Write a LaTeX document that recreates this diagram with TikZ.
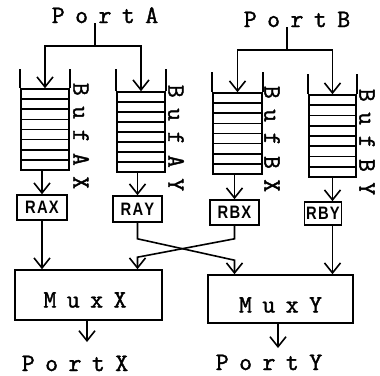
\documentclass[tikz,border=0pt]{standalone}
\usepackage{fontspec}
\newfontfamily\monof[FakeBold=1.6]{Latin Modern Mono}
\newfontfamily\sansf{Liberation Sans}
\usetikzlibrary{arrows.meta,calc}
% letter spacing for the typewriter labels and the register names
\newcommand\lsp{\kern10.5pt\relax}
\newcommand\rsp{\kern1.5pt\relax}
\newcommand\regname[1]{\scalebox{0.82}[1]{\bfseries #1}}
\tikzset{
  thk/.style={line width=1.6pt},
  arr/.style={thk, -{Straight Barb[length=10pt,width=16pt]}},
  lbl/.style={font=\monof\fontsize{25}{25}\selectfont, inner sep=0pt},
  reg/.style={draw, thk, inner sep=0pt, font=\sansf\fontsize{18}{18}\selectfont},
  mux/.style={draw, thk, inner sep=0pt, text depth=0pt, font=\monof\fontsize{25}{25}\selectfont},
  buf/.style={draw, thk, inner sep=0pt,
    path picture={
      \foreach \k in {1,...,7}{
        \draw[thk]
          ($(path picture bounding box.north west)!\k/8!(path picture bounding box.south west)$) --
          ($(path picture bounding box.north east)!\k/8!(path picture bounding box.south east)$);
      }}},
}
\begin{document}
\begin{tikzpicture}[x=1pt,y=-1pt]
\useasboundingbox (0,0) rectangle (380,375);

% input ports
\node[lbl, anchor=base] (pa) at (105,23) {P\lsp o\lsp r\lsp t\lsp A};
\node[lbl, anchor=base] (pb) at (297,27) {P\lsp o\lsp r\lsp t\lsp B};
\coordinate (sa) at (95,46);
\coordinate (sb) at (287,50);

% buffer stacks
\node[buf, minimum width=48pt, minimum height=81pt] (bax) at (45,129.5) {};
\node[buf, minimum width=48pt, minimum height=80pt] (bay) at (141,132) {};
\node[buf, minimum width=49pt, minimum height=81pt] (bbx) at (237.5,133.5) {};
\node[buf, minimum width=47pt, minimum height=82pt] (bby) at (332.5,136) {};
\draw[thk] (bax.north west) -- ++(0,-19) (bax.north east) -- ++(0,-19);
\draw[thk] (bay.north west) -- ++(0,-22) (bay.north east) -- ++(0,-22);
\draw[thk] (bbx.north west) -- ++(0,-20) (bbx.north east) -- ++(0,-20);
\draw[thk] (bby.north west) -- ++(0,-20) (bby.north east) -- ++(0,-20);

% buffer names
\node[lbl, rotate=-90] (nax) at (81,136) {B\lsp u\lsp f\lsp A\lsp X};
\node[lbl, rotate=-90] (nay) at (176,138) {B\lsp u\lsp f\lsp A\lsp Y};
\node[lbl, rotate=-90] (nbx) at (272,139) {B\lsp u\lsp f\lsp B\lsp X};
\node[lbl, rotate=-90] (nby) at (367,142) {B\lsp u\lsp f\lsp B\lsp Y};

% registers
\node[reg, minimum width=50pt, minimum height=25pt] (rax) at (42,207.5) {\regname{R\rsp A\rsp X}};
\node[reg, minimum width=49pt, minimum height=26pt] (ray) at (137.5,209) {\regname{R\rsp A\rsp Y}};
\node[reg, minimum width=49pt, minimum height=25pt] (rbx) at (234.5,212.5) {\regname{R\rsp B\rsp X}};
\node[reg, minimum width=37pt, minimum height=23pt] (rby) at (323,213.5) {\regname{R\rsp B\rsp Y}};

% multiplexers
\node[mux, minimum width=147pt, minimum height=50pt, text height=25pt] (muxx) at (88.5,295) {M\lsp u\lsp x\lsp X\kern7pt};
\node[mux, minimum width=145pt, minimum height=48pt, text height=27pt] (muxy) at (280.5,299) {M\lsp u\lsp x\lsp Y};

% output ports
\node[lbl, anchor=base] (px) at (75,371) {P\lsp o\lsp r\lsp t\lsp X};
\node[lbl, anchor=base] (py) at (269,370) {P\lsp o\lsp r\lsp t\lsp Y};
\coordinate (tx) at (87,342);
\coordinate (ty) at (278,348);

% port fan-out into the buffers
\draw[thk] (sa |- pa.south) -- (sa);
\draw[arr] (sa) -| (bax.north);
\draw[arr] (sa) -| (bay.north);
\draw[thk] (sb |- pb.south) -- (sb);
\draw[arr] (sb) -| (bbx.north);
\draw[arr] (sb) -| (bby.north);

% buffers into registers
\draw[arr] (bax.south -| rax.north) -- (rax.north);
\draw[arr] (bay.south -| ray.north) -- (ray.north);
\draw[arr] (bbx.south -| rbx.north) -- (rbx.north);
\draw[arr] (bby.south) -- (bby.south |- rby.north);

% registers into multiplexers
\draw[arr] (rax.south) -- (rax.south |- muxx.north);
\draw[arr] (ray.south) -- ++(0,16) -- ($(rbx.south |- muxy.north)+(0,-14)$) -- (rbx.south |- muxy.north);
\draw[arr] (rbx.south) -- ++(0,13) -- ($(ray.south |- muxx.north)+(0,-12)$) -- (ray.south |- muxx.north);
\draw[arr] (bby.south |- rby.south) -- (bby.south |- muxy.north);

% multiplexers to output ports
\draw[arr] (muxx.south -| tx) -- (tx);
\draw[arr] (muxy.south -| ty) -- (ty);
\end{tikzpicture}
\end{document}
